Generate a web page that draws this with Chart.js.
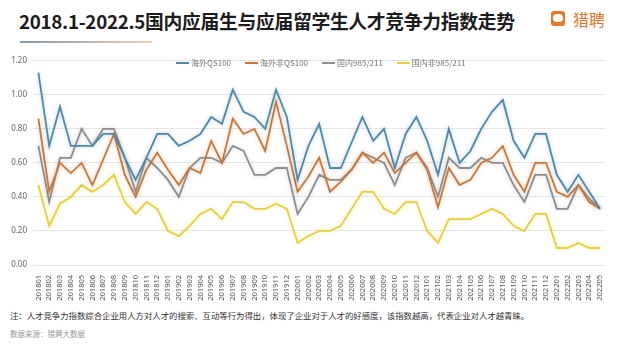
<!DOCTYPE html>
<html>
<head>
<meta charset="utf-8">
<script src="https://cdn.jsdelivr.net/npm/chart.js@4.4.1/dist/chart.umd.min.js"></script>
<style>
  html, body { margin: 0; padding: 0; background: #fff; }
  body { width: 620px; height: 348px; position: relative; overflow: hidden; font-family: "Noto Sans CJK SC", "Noto Sans", sans-serif; }
  .title { position: absolute; left: 19px; top: 8px; font-size: 18.8px; font-weight: 700; color: #1c1c1c; letter-spacing: -0.3px; white-space: nowrap; line-height: 26px; }
  .bar { position: absolute; left: 20px; top: 41px; width: 132px; height: 2px; background: linear-gradient(90deg, #8796aa, #ecd3b8); }
  .logo { position: absolute; left: 551px; top: 11px; width: 14px; height: 15px; border-radius: 3px; background: #e8782c; }
  .logo span { position: absolute; left: 2px; top: 3px; width: 10px; height: 8px; border-radius: 4px; background: #fff; }
  .logoText { position: absolute; left: 573px; top: 7px; font-size: 16px; color: #e0762c; line-height: 24px; }
  .wrap { position: absolute; left: 0; top: 50px; width: 620px; height: 252px; }
  .legend { position: absolute; top: 57px; left: 176px; display: flex; font-size: 8px; color: #777; white-space: nowrap; }
  .legend div { display: flex; align-items: center; margin-right: 14px; }
  .legend i { display: inline-block; width: 13px; height: 2px; margin-right: 2px; }
  .note { position: absolute; left: 10px; top: 309px; font-size: 8.4px; color: #333; white-space: nowrap; }
  .src { position: absolute; left: 10px; top: 328px; font-size: 7.5px; color: #999; }
</style>
</head>
<body>
<div class="title">2018.1-2022.5国内应届生与应届留学生人才竞争力指数走势</div>
<div class="bar"></div>
<div class="logo"><span></span></div>
<div class="logoText">猎聘</div>
<div class="wrap"><canvas id="chartJSContainer"></canvas></div>
<div class="legend" id="legend"></div>
<div class="note">注：人才竞争力指数综合企业用人方对人才的搜索、互动等行为得出，体现了企业对于人才的好感度，该指数越高，代表企业对人才越青睐。</div>
<div class="src">数据来源：猎聘大数据</div>

<script>
var months = ['201801','201802','201803','201804','201805','201806','201807','201808','201809','201810','201811','201812',
  '201901','201902','201903','201904','201905','201906','201907','201908','201909','201910','201911','201912',
  '202001','202002','202003','202004','202005','202006','202007','202008','202009','202010','202011','202012',
  '202101','202102','202103','202104','202105','202106','202107','202108','202109','202110','202111','202112',
  '202201','202202','202203','202204','202205'];

var seriesNames = ['海外QS100', '海外非QS100', '国内985/211', '国内非985/211'];
var seriesColors = ['#4f88a9', '#c8773a', '#8e8e8e', '#e6cf3c'];

var qs100 = [1.13,0.70,0.93,0.70,0.70,0.70,0.77,0.77,0.63,0.50,0.63,0.77,
  0.77,0.70,0.73,0.77,0.87,0.83,1.03,0.90,0.87,0.80,1.03,0.87,
  0.50,0.70,0.83,0.57,0.57,0.72,0.87,0.73,0.80,0.57,0.77,0.87,
  0.73,0.53,0.80,0.60,0.67,0.80,0.90,0.97,0.73,0.63,0.77,0.77,
  0.53,0.43,0.53,0.43,0.33];
var nonQs100 = [0.86,0.43,0.60,0.54,0.60,0.47,0.62,0.77,0.53,0.40,0.56,0.66,
  0.56,0.47,0.57,0.54,0.73,0.60,0.86,0.77,0.80,0.67,0.96,0.70,
  0.43,0.52,0.63,0.43,0.49,0.56,0.66,0.60,0.66,0.54,0.60,0.66,
  0.56,0.34,0.57,0.47,0.50,0.60,0.63,0.70,0.53,0.43,0.60,0.60,
  0.43,0.40,0.47,0.37,0.33];
var top985 = [0.70,0.37,0.63,0.63,0.80,0.70,0.80,0.80,0.63,0.43,0.63,0.57,
  0.50,0.40,0.57,0.63,0.63,0.60,0.70,0.67,0.53,0.53,0.57,0.57,
  0.30,0.40,0.53,0.50,0.50,0.56,0.66,0.63,0.60,0.47,0.63,0.66,
  0.57,0.40,0.63,0.57,0.57,0.63,0.60,0.60,0.47,0.37,0.53,0.53,
  0.33,0.33,0.47,0.39,0.33];
var non985 = [0.47,0.23,0.36,0.40,0.47,0.43,0.47,0.53,0.37,0.30,0.37,0.33,
  0.20,0.17,0.23,0.30,0.33,0.27,0.37,0.37,0.33,0.33,0.36,0.33,
  0.13,0.17,0.20,0.20,0.23,0.33,0.43,0.43,0.33,0.30,0.37,0.37,
  0.20,0.13,0.27,0.27,0.27,0.30,0.33,0.30,0.23,0.20,0.30,0.30,
  0.10,0.10,0.13,0.10,0.10];

var yTicks = [0, 0.2, 0.4, 0.6, 0.8, 1.0, 1.2];

var allSeries = [qs100, nonQs100, top985, non985];

// soft glow around the lines, like the original
var glowPlugin = {
    id: 'glow',
    beforeDatasetDraw: function (chart, args) {
        var ctx = chart.ctx;
        ctx.save();
        ctx.shadowColor = seriesColors[args.index] + '66';
        ctx.shadowBlur = 4;
    },
    afterDatasetDraw: function (chart) {
        chart.ctx.restore();
    }
};

var legendBox = document.getElementById('legend');
seriesNames.forEach(function (name, i) {
    var d = document.createElement('div');
    d.innerHTML = '<i style="background:' + seriesColors[i] + '"></i>' + name;
    legendBox.appendChild(d);
});

var ctx = document.getElementById('chartJSContainer').getContext('2d');
new Chart(ctx, {
    type: 'line',
    data: {
        labels: months,
        datasets: allSeries.map(function (s, i) {
            return {
                label: seriesNames[i],
                data: s,
                borderColor: seriesColors[i],
                backgroundColor: seriesColors[i],
                borderWidth: 1.8,
                pointRadius: 0,
                tension: 0,
                fill: false
            };
        })
    },
    options: {
        responsive: true,
        maintainAspectRatio: false,
        animation: false,
        layout: { padding: { top: 8, left: 6, right: 14.6, bottom: 0 } },
        plugins: {
            legend: { display: false },
            tooltip: { enabled: false }
        },
        scales: {
            x: {
                offset: true,
                grid: { display: false },
                border: { display: false },
                ticks: {
                    autoSkip: false,
                    minRotation: 90,
                    maxRotation: 90,
                    padding: 2,
                    color: '#555',
                    font: { size: 7.5, family: '"Noto Sans", sans-serif' }
                },
                afterFit: function (scale) { scale.height = 37; }
            },
            y: {
                min: 0,
                max: 1.2,
                afterBuildTicks: function (scale) {
                    scale.ticks = yTicks.map(function (v) { return { value: v }; });
                },
                grid: { color: '#e6e6e6', lineWidth: 1, drawTicks: false },
                border: { display: false },
                ticks: {
                    padding: 6,
                    color: '#666',
                    font: { size: 8, family: '"Noto Sans", sans-serif' },
                    callback: function (v) { return Number(v).toFixed(2); }
                },
                afterFit: function (scale) { scale.width = 27; }
            }
        }
    },
    plugins: [glowPlugin]
});
</script>
</body>
</html>
